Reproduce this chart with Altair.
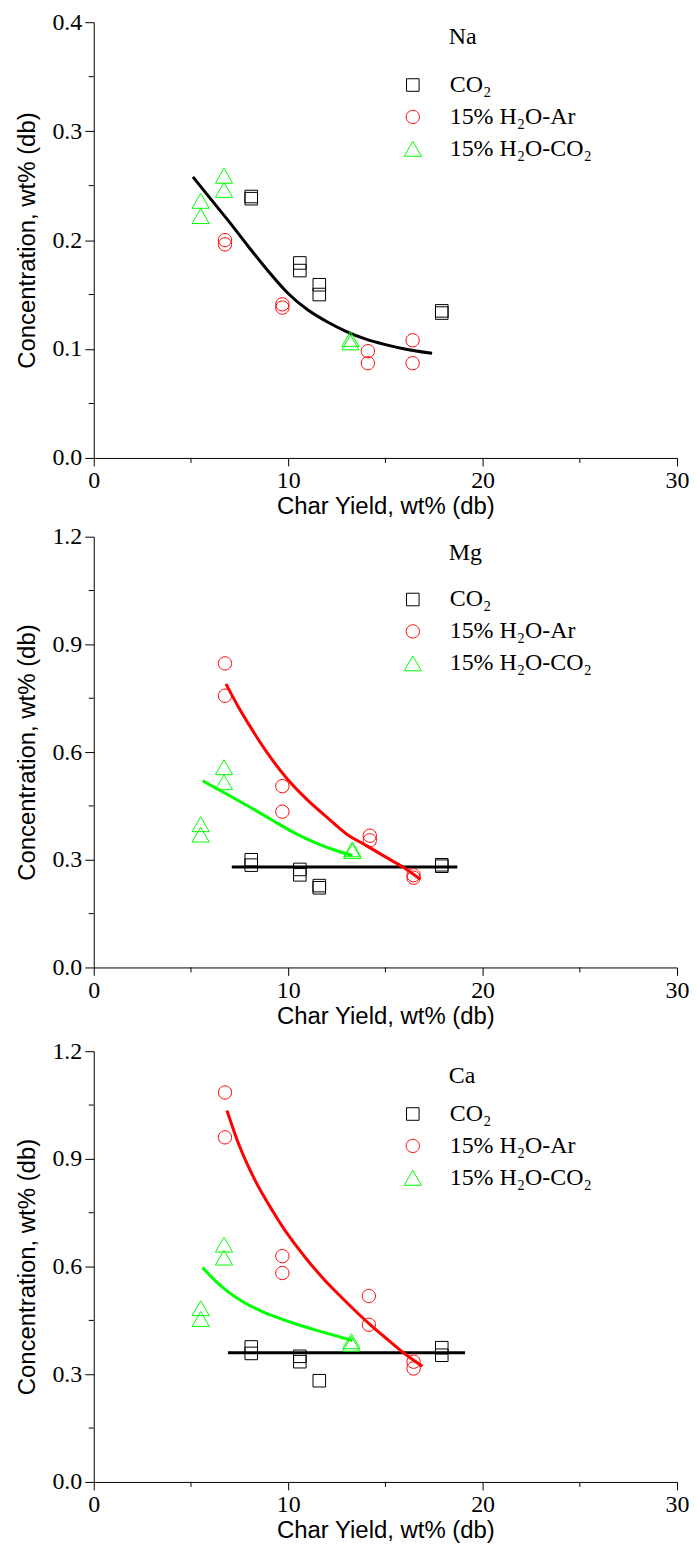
import altair as alt
import pandas as pd

# ---------------- shared data ----------------
x_ticks = [0, 10, 20, 30]
x_minor = [5, 15, 25]
series_names = ["CO₂", "15% H₂O-Ar", "15% H₂O-CO₂"]
series_colors = ["#000000", "#ff0000", "#00ff00"]
fit_names = ["CO₂ fit", "15% H₂O-Ar fit", "15% H₂O-CO₂ fit"]
panel_names = ["Na", "Mg", "Ca"]

# marker outlines (unit box -1..1, scaled by the mark size)
series_shapes = [
    "M-0.70,-0.70L0.70,-0.70L0.70,0.70L-0.70,0.70Z",
    "M0.74,0A0.74,0.74,0,1,1,-0.74,0A0.74,0.74,0,1,1,0.74,0Z",
    "M0,-0.83L0.96,0.83L-0.96,0.83Z",
]
MARK_SIZE = 324

# ---------------- Na ----------------
na_co2_x = [8.1, 8.1, 10.6, 10.6, 11.6, 11.6, 17.9, 17.9]
na_co2_y = [0.240, 0.238, 0.179, 0.172, 0.159, 0.150, 0.135, 0.133]
na_ar_x = [6.75, 6.75, 9.7, 9.7, 14.1, 14.1, 16.4, 16.4]
na_ar_y = [0.200, 0.196, 0.141, 0.138, 0.098, 0.087, 0.108, 0.087]
na_hc_x = [5.5, 5.5, 6.7, 6.7, 13.2, 13.2]
na_hc_y = [0.236, 0.222, 0.259, 0.246, 0.109, 0.106]
na_fit_x = [5.1, 6.0, 7.0, 8.0, 9.0, 10.0, 11.0, 12.0, 13.0, 14.0, 15.0, 16.0, 17.4]
na_fit_y = [0.258, 0.238, 0.216, 0.193, 0.171, 0.151, 0.136, 0.125, 0.116, 0.109, 0.104, 0.100, 0.096]
na_y_ticks = [0.0, 0.1, 0.2, 0.3, 0.4]
na_y_minor = [0.05, 0.15, 0.25, 0.35]

# ---------------- Mg ----------------
mg_co2_x = [8.1, 8.1, 10.6, 10.6, 11.6, 11.6, 17.9, 17.9]
mg_co2_y = [0.300, 0.285, 0.273, 0.258, 0.228, 0.222, 0.286, 0.282]
mg_ar_x = [6.75, 6.75, 9.7, 9.7, 14.2, 14.2, 16.45, 16.45]
mg_ar_y = [0.847, 0.757, 0.505, 0.434, 0.367, 0.354, 0.257, 0.250]
mg_hc_x = [5.5, 5.5, 6.7, 6.7, 13.3, 13.3]
mg_hc_y = [0.399, 0.370, 0.558, 0.516, 0.329, 0.324]
mg_fit_co2_x = [7.1, 18.7]
mg_fit_co2_y = [0.280, 0.280]
mg_fit_ar_x = [6.8, 7.5, 8.0, 9.0, 10.0, 11.0, 12.0, 13.0, 14.0, 15.0, 16.0, 16.8]
mg_fit_ar_y = [0.790, 0.720, 0.675, 0.592, 0.522, 0.466, 0.418, 0.372, 0.340, 0.308, 0.276, 0.245]
mg_fit_hc_x = [5.6, 6.5, 7.5, 8.5, 9.5, 10.5, 11.5, 12.5, 13.3]
mg_fit_hc_y = [0.520, 0.493, 0.463, 0.432, 0.400, 0.370, 0.345, 0.325, 0.312]
mg_y_ticks = [0.0, 0.3, 0.6, 0.9, 1.2]
mg_y_minor = [0.15, 0.45, 0.75, 1.05]

# ---------------- Ca ----------------
ca_co2_x = [8.1, 8.1, 10.6, 10.6, 11.6, 17.9, 17.9]
ca_co2_y = [0.376, 0.358, 0.350, 0.335, 0.282, 0.374, 0.353]
ca_ar_x = [6.75, 6.75, 9.7, 9.7, 14.15, 14.15, 16.45, 16.45]
ca_ar_y = [1.085, 0.960, 0.629, 0.582, 0.518, 0.438, 0.335, 0.316]
ca_hc_x = [5.5, 5.5, 6.7, 6.7, 13.25, 13.25]
ca_hc_y = [0.484, 0.454, 0.661, 0.625, 0.392, 0.385]
ca_fit_co2_x = [6.9, 19.1]
ca_fit_co2_y = [0.360, 0.360]
ca_fit_ar_x = [6.85, 7.5, 8.3, 9.2, 10.0, 10.9, 11.8, 12.6, 13.5, 14.3, 15.2, 16.0, 16.9]
ca_fit_ar_y = [1.035, 0.935, 0.840, 0.755, 0.688, 0.624, 0.567, 0.522, 0.474, 0.434, 0.393, 0.357, 0.322]
ca_fit_hc_x = [5.6, 6.3, 7.0, 7.8, 8.7, 9.5, 10.4, 11.3, 12.2, 13.3]
ca_fit_hc_y = [0.597, 0.558, 0.526, 0.498, 0.474, 0.457, 0.440, 0.425, 0.411, 0.394]
ca_y_ticks = [0.0, 0.3, 0.6, 0.9, 1.2]
ca_y_minor = [0.15, 0.45, 0.75, 1.05]

W = 585
SERIF = "Liberation Serif"
SANS = "Liberation Sans"


def make_panel(name, name_y, groups, fits, y_max, y_ticks, y_minor, height):
    xs, ys, ss = [], [], []
    for s, (gx, gy) in zip(series_names, groups):
        xs += gx
        ys += gy
        ss += [s] * len(gx)
    pts = pd.DataFrame({"x": xs, "y": ys, "series": ss})

    cx, cy, cs = [], [], []
    for s, (fx, fy) in fits:
        cx += fx
        cy += fy
        cs += [s] * len(fx)
    crv = pd.DataFrame({"x": cx, "y": cy, "curve": cs})

    xscale = alt.Scale(domain=[0, 30], nice=False, zero=False)
    yscale = alt.Scale(domain=[0, y_max], nice=False, zero=False)
    common = dict(labelFont=SERIF, labelFontSize=24, labelColor="black",
                  titleFont=SANS, titleFontSize=24, titleFontWeight="normal",
                  titleColor="black", domainColor="black", tickColor="black",
                  domainWidth=1, tickWidth=1, grid=False, labelOverlap=False)
    xaxis = alt.Axis(values=x_ticks, format="d", title="Char Yield, wt% (db)",
                     labelFlush=False, tickSize=8, labelPadding=3, titlePadding=2,
                     **common)
    yaxis = alt.Axis(values=y_ticks, format=".1f", title="Concentration, wt% (db)",
                     tickSize=9, labelPadding=3, titlePadding=12, **common)

    legend = alt.Legend(orient="none", legendX=308, legendY=51, title=None,
                        labelFont=SERIF, labelFontSize=24, labelColor="black",
                        labelOffset=25, rowPadding=8, symbolSize=MARK_SIZE,
                        symbolStrokeWidth=1)

    lines = alt.Chart(crv).mark_line(strokeWidth=3, interpolate="monotone").encode(
        x=alt.X("x:Q", scale=xscale, axis=xaxis),
        y=alt.Y("y:Q", scale=yscale, axis=yaxis),
        stroke=alt.Stroke("curve:N", scale=alt.Scale(domain=fit_names, range=series_colors),
                          legend=None),
    )
    points = alt.Chart(pts).mark_point(filled=False, strokeWidth=1, opacity=1,
                                       size=MARK_SIZE).encode(
        x=alt.X("x:Q", scale=xscale, axis=xaxis),
        y=alt.Y("y:Q", scale=yscale, axis=yaxis),
        color=alt.Color("series:N", scale=alt.Scale(domain=series_names, range=series_colors),
                        legend=legend),
        shape=alt.Shape("series:N", scale=alt.Scale(domain=series_names, range=series_shapes),
                        legend=legend),
    )
    minor_x = alt.Chart(pd.DataFrame({"v": x_minor})).mark_rule(color="black", strokeWidth=1).encode(
        x=alt.X("v:Q", scale=xscale, axis=xaxis),
        y=alt.value(height),
        y2=alt.value(height + 5),
    )
    minor_y = alt.Chart(pd.DataFrame({"v": y_minor})).mark_rule(color="black", strokeWidth=1).encode(
        y=alt.Y("v:Q", scale=yscale, axis=yaxis),
        x=alt.value(0),
        x2=alt.value(-5),
    )
    label = alt.Chart(pd.DataFrame({"t": [name]})).mark_text(
        align="left", baseline="middle", font=SERIF, fontSize=24, color="black"
    ).encode(text="t:N", x=alt.value(356), y=alt.value(name_y))

    return alt.layer(lines, points, minor_x, minor_y, label).properties(width=W, height=height)


p_na = make_panel(
    panel_names[0], 15,
    [(na_co2_x, na_co2_y), (na_ar_x, na_ar_y), (na_hc_x, na_hc_y)],
    [(fit_names[0], (na_fit_x, na_fit_y))],
    0.4, na_y_ticks, na_y_minor, 437,
)
p_mg = make_panel(
    panel_names[1], 16,
    [(mg_co2_x, mg_co2_y), (mg_ar_x, mg_ar_y), (mg_hc_x, mg_hc_y)],
    [(fit_names[0], (mg_fit_co2_x, mg_fit_co2_y)),
     (fit_names[1], (mg_fit_ar_x, mg_fit_ar_y)),
     (fit_names[2], (mg_fit_hc_x, mg_fit_hc_y))],
    1.2, mg_y_ticks, mg_y_minor, 432,
)
p_ca = make_panel(
    panel_names[2], 25,
    [(ca_co2_x, ca_co2_y), (ca_ar_x, ca_ar_y), (ca_hc_x, ca_hc_y)],
    [(fit_names[0], (ca_fit_co2_x, ca_fit_co2_y)),
     (fit_names[1], (ca_fit_ar_x, ca_fit_ar_y)),
     (fit_names[2], (ca_fit_hc_x, ca_fit_hc_y))],
    1.2, ca_y_ticks, ca_y_minor, 432,
)


def indep(c):
    return c.resolve_scale(
        color="independent", shape="independent", stroke="independent",
        x="independent", y="independent",
    ).resolve_legend(color="independent", shape="independent")


top = indep(alt.vconcat(p_na, p_mg, spacing=6))
chart = indep(alt.vconcat(top, p_ca, spacing=11)).properties(
    padding={"left": 8, "top": 0, "right": 0, "bottom": 0}
).configure_view(stroke=None)

chart.save("out.html", embed_options={"renderer": "svg", "actions": False})
